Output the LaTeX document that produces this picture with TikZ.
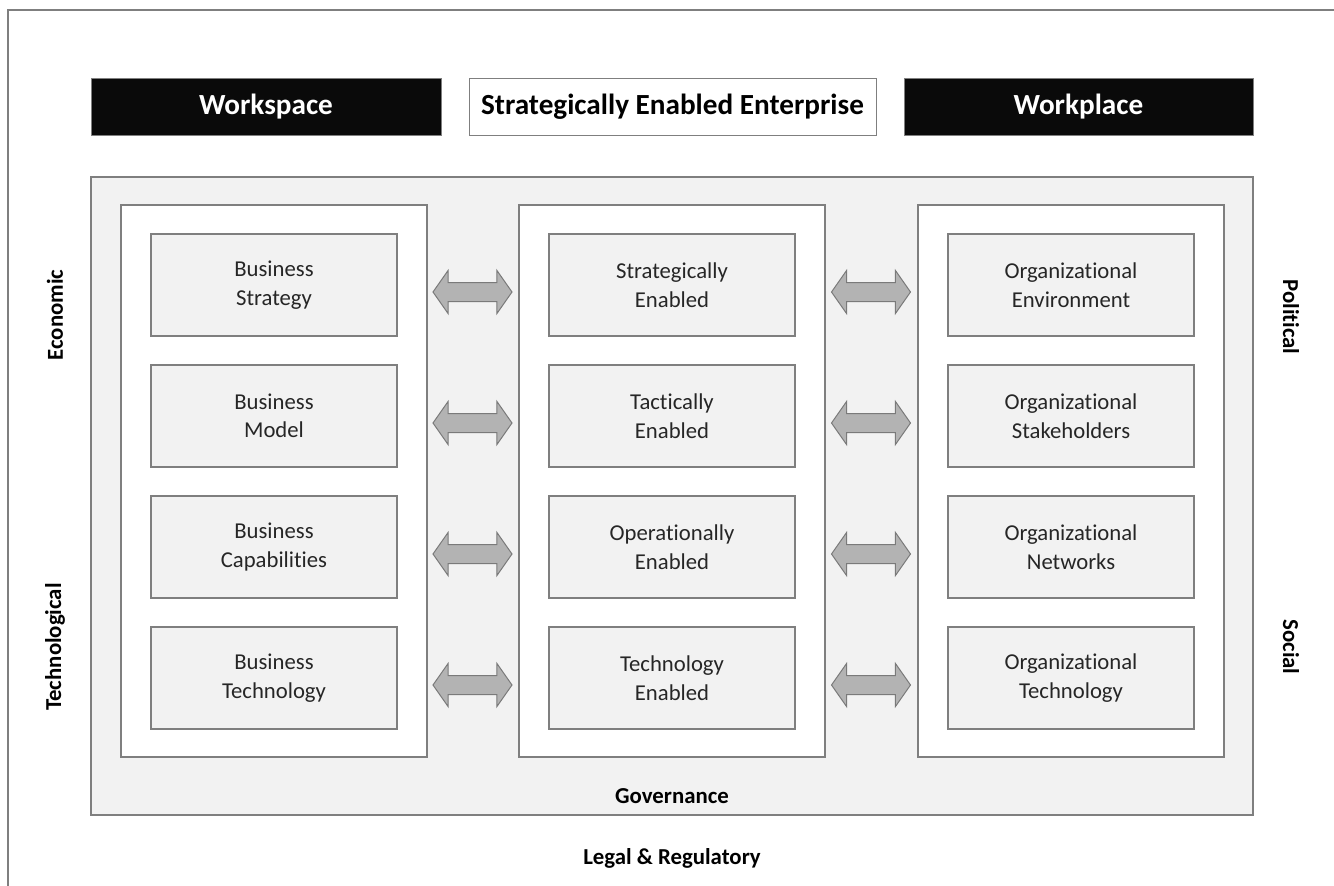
\documentclass[tikz,border=0pt]{standalone}
\usepackage{fontspec}
\setmainfont[Ligatures=NoCommon]{Carlito}
\usetikzlibrary{shapes.arrows}
\definecolor{edge}{HTML}{7F7F7F}
\definecolor{panel}{HTML}{F2F2F2}
\definecolor{ink}{HTML}{262626}
\definecolor{arrowfill}{HTML}{B3B3B3}
\definecolor{arrowedge}{HTML}{7A7A7A}
\tikzset{
  headbar/.style={rectangle, inner sep=0, minimum height=57, text=white, fill=black!96, draw=edge, line width=1pt,
    font=\fontsize{29.2}{34}\selectfont\bfseries},
  headwhite/.style={headbar, fill=white, text=black},
  panelbox/.style={rectangle, inner sep=0, fill=panel, draw=edge, line width=1.5pt},
  colbox/.style={rectangle, inner sep=0, fill=white, draw=edge, line width=1.5pt, minimum width=306, minimum height=552},
  itembox/.style={rectangle, inner sep=0, fill=panel, draw=edge, line width=1.5pt, minimum width=246, minimum height=102,
    align=center, text=ink, font=\fontsize{22.7}{28.5}\selectfont},
  sidelabel/.style={font=\fontsize{22.8}{27}\selectfont\bfseries, text=black, inner sep=0},
  twoway/.style={double arrow, draw=arrowedge, fill=arrowfill, line width=1pt, inner xsep=0, inner ysep=9,
    minimum height=79, double arrow head extend=12, double arrow tip angle=110},
}
\begin{document}
\begin{tikzpicture}[x=1pt, y=-1pt]
  \useasboundingbox (0,0) rectangle (1334,886);
  \fill[white] (0,0) rectangle (1334,886);
  % cropped outer frame
  \coordinate (frameBL) at (8,886);
  \coordinate (frameTL) at (8,10);
  \coordinate (frameTR) at (1334,10);
  \draw[edge, line width=1.2pt] (frameBL) -- (frameTL) -- (frameTR);

  % header bars
  \node[headbar, minimum width=350] (workspace) at (266,106.5) {Workspace};
  \node[headwhite, minimum width=407] (see) at (672.5,106.5) {Strategically Enabled Enterprise};
  \node[headbar, minimum width=349] (workplace) at (1078.5,106.5) {Workplace};

  % governance panel and columns
  \node[panelbox, minimum width=1162, minimum height=638] (gov) at (672,496) {};
  \node[colbox] (colL) at (274,481) {};
  \node[colbox] (colM) at (672,481) {};
  \node[colbox] (colR) at (1071,481) {};

  % left column items
  \node[itembox] (l1) at (274,285) {Business\\Strategy};
  \node[itembox] (l2) at (274,416) {Business\\Model};
  \node[itembox] (l3) at (274,547) {Business\\Capabilities};
  \node[itembox] (l4) at (274,678) {Business\\Technology};
  % middle column items
  \node[itembox] (m1) at (672,285) {Strategically\\Enabled};
  \node[itembox] (m2) at (672,416) {Tactically\\Enabled};
  \node[itembox] (m3) at (672,547) {Operationally\\Enabled};
  \node[itembox] (m4) at (672,678) {Technology\\Enabled};
  % right column items
  \node[itembox] (r1) at (1071,285) {Organizational\\Environment};
  \node[itembox] (r2) at (1071,416) {Organizational\\Stakeholders};
  \node[itembox] (r3) at (1071,547) {Organizational\\Networks};
  \node[itembox] (r4) at (1071,678) {Organizational\\Technology};

  % two-way arrows between columns
  \foreach \i/\y in {1/292,2/423,3/554,4/685} {
    \node[twoway] (aL\i) at (472.5,\y) {};
    \node[twoway] (aR\i) at (871,\y) {};
  }

  % surrounding labels
  \node[sidelabel, rotate=90] (economic) at (55,315) {Economic};
  \node[sidelabel, rotate=90] (technological) at (55,647) {Technological};
  \node[sidelabel, rotate=-90] (political) at (1291,317) {Political};
  \node[sidelabel, rotate=-90] (social) at (1291,647) {Social};
  \node[sidelabel] (governance) at (672,796) {Governance};
  \node[sidelabel] (legal) at (672,858) {Legal \& Regulatory};
\end{tikzpicture}
\end{document}
